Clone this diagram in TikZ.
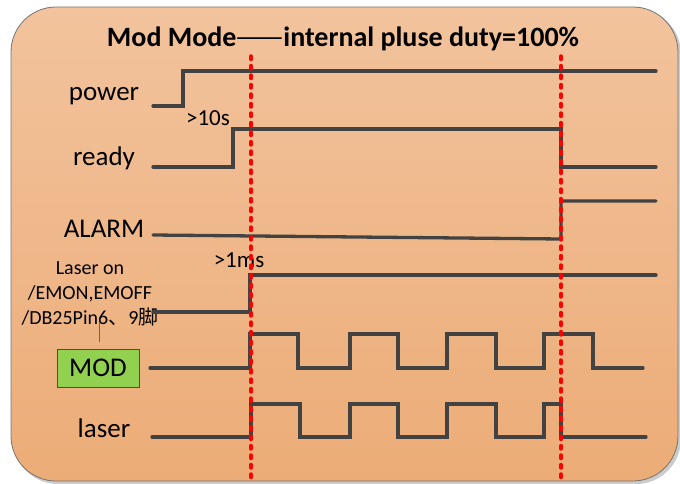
\documentclass[tikz,border=0pt]{standalone}
\usepackage{fontspec}
\usetikzlibrary{calc}
\setmainfont{Carlito}
\newfontfamily\cjk{Noto Sans CJK SC}
\definecolor{sigc}{HTML}{424242}
\definecolor{bgtop}{HTML}{F2C39D}
\definecolor{bgbot}{HTML}{ECAC77}
\definecolor{modgreen}{HTML}{92D050}
\begin{document}
\begin{tikzpicture}[x=1pt,y=-1pt,
  sig/.style={draw=sigc, line width=3.3pt, line cap=round, line join=miter},
  mark line/.style={draw=red, line width=3.4pt, line cap=round, dash pattern=on 3.5pt off 6pt},
  lbl/.style={font=\fontsize{27}{30}\selectfont, inner sep=0pt, anchor=base},
  note/.style={font=\fontsize{23}{26}\selectfont, inner sep=0pt, anchor=base}]
\useasboundingbox (0,0) rectangle (680,484);
% shadow and background
\fill[black!20, rounded corners=45pt] (13,9) rectangle (681,484);
\shade[top color=bgtop, bottom color=bgbot, rounded corners=45pt, draw=black!55, line width=0.8pt]
  (11,7) rectangle (678,481);
% title
\node[inner sep=0pt, anchor=base, font=\bfseries\fontsize{28}{32}\selectfont] (title) at (343,47)
  {Mod Mode{\mdseries\cjk ——}internal pluse duty=100\%};
% labels
\node[lbl] (power) at (104,101) {power};
\node[lbl] (ready) at (104,165) {ready};
\node[lbl] (alarm) at (104,237) {ALARM};
\node[lbl] (laser) at (104,437) {laser};
\node[note] (t10s) at (208,126) {>10s};
\node[note] (t1ms) at (239,267) {>1ms};
\node[inner sep=0pt, align=center, font=\fontsize{20}{25}\selectfont, anchor=north] (laseron) at (90,261)
  {Laser on\\/EMON,EMOFF\\/DB25Pin6{\cjk 、}9{\cjk 脚}};
\node[draw=black!70, line width=0.8pt, fill=modgreen, minimum width=82pt, minimum height=38pt,
  inner sep=0pt, font=\fontsize{27}{29}\selectfont] (mod) at (98,368) {MOD};
\coordinate (tick) at (99,322);
\draw[black!60, line width=0.8pt] (tick) -- ($(tick |- mod.north)+(0,-7)$);
% signals
\draw[sig] (153,106) -- (183,106) -- (183,71) -- (656,71);
\draw[sig] (153,167) -- (233,167) -- (233,129) -- (561,129) -- (561,167) -- (656,167);
\draw[sig] (153,235) -- (561,239) -- (561,201) -- (656,201);
\draw[sig] (153,312) -- (250,312) -- (250,275) -- (656,275);
\draw[sig] (150,368) -- (250,368) -- (250,334) -- (298,334) -- (298,368) -- (350,368)
  -- (350,334) -- (398,334) -- (398,368) -- (447,368) -- (447,334) -- (496,334)
  -- (496,368) -- (544,368) -- (544,334) -- (593,334) -- (593,368) -- (643,368);
\draw[sig] (152,437) -- (251,437) -- (251,404) -- (300,404) -- (300,437) -- (350,437)
  -- (350,404) -- (398,404) -- (398,437) -- (447,437) -- (447,404) -- (496,404)
  -- (496,437) -- (544,437) -- (544,404) -- (561,404) -- (561,437) -- (646,437);
% red markers
\draw[mark line] (251,56) -- (251,481);
\draw[mark line] (561,56) -- (561,481);
\end{tikzpicture}
\end{document}
